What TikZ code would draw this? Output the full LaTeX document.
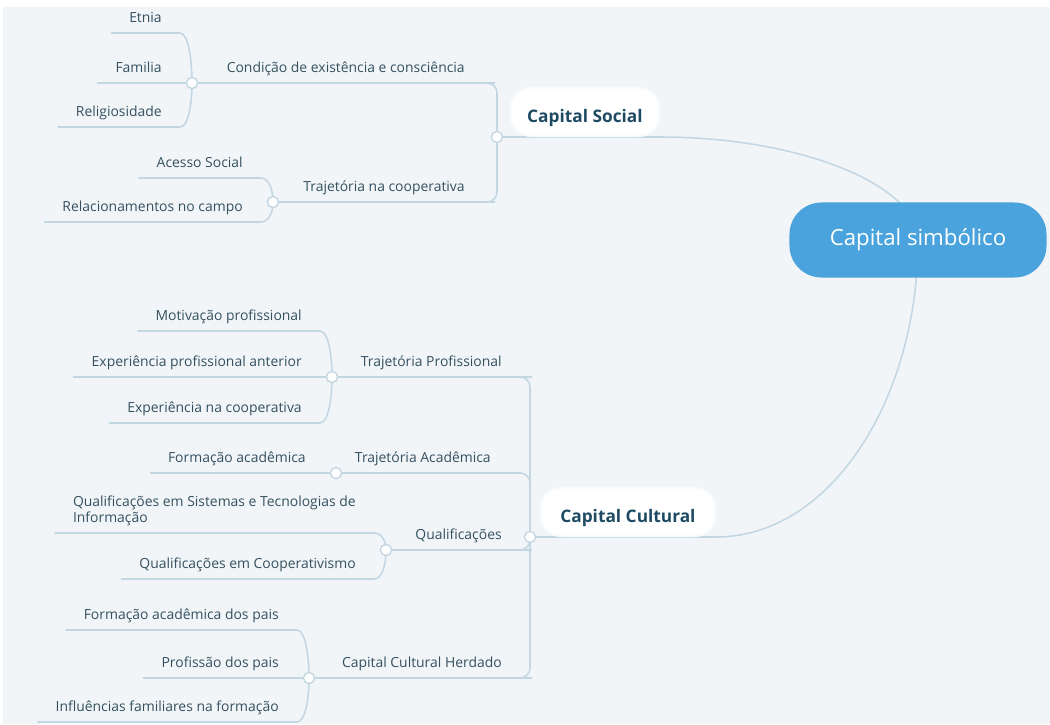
\documentclass[tikz,border=0pt]{standalone}
\usepackage{fontspec}
\setmainfont{Open Sans}
\usetikzlibrary{backgrounds}
\definecolor{panel}{HTML}{F1F5F8}
\definecolor{linkcol}{HTML}{C3D7E3}
\definecolor{txtcol}{HTML}{34505F}
\definecolor{topiccol}{HTML}{1E4B63}
\definecolor{rootcol}{HTML}{4AA3DC}
\tikzset{
leaf/.style = {anchor=south east, inner xsep=0.45cm, inner ysep=4.5pt, text depth=2.5pt, text height=7.5pt, font=\fontsize{9.9}{12}\selectfont, text=txtcol},
branch/.style = {leaf, inner xsep=0.5cm},
junction/.style = {draw=linkcol, line width=1pt, fill=white, circle, inner sep=0pt, minimum size=0.28cm},
link/.style = {draw=linkcol, line width=1.1pt},
trunk/.style = {link, rounded corners=0.25cm},
topic/.style = {anchor=south east, fill=white, draw=white!60!panel, line width=1.5pt, rounded corners=0.5cm, minimum height=1.2cm, text height=17pt, text depth=2pt, font=\fontsize{12.3}{14}\selectfont\bfseries, text=topiccol},
root/.style = {fill=rootcol, rounded corners=0.8cm, text=white, font=\fontsize{15.8}{18}\selectfont, minimum width=6.425cm, minimum height=1.875cm}
}
\begin{document}
\begin{tikzpicture}[x=0.025cm, y=-0.025cm]
    \useasboundingbox (0,0) rectangle (1050,724);
    \node [root] (root) at (918,240) {Capital simbólico};
    \node [topic, minimum width=3.7cm] (social) at (660,137) {Capital Social};
    \node [topic, minimum width=4.35cm] (cultural) at (716,537) {Capital Cultural};

    \node [junction] (js) at (497,137) {};
    \node [junction] (jcond) at (192,83) {};
    \node [junction] (jcoop) at (273,202) {};
    \node [branch] (cond) at (485,83) {Condição de existência e consciência};
    \node [branch] (coop) at (485,202) {Trajetória na cooperativa};
    \node [leaf] (etnia) at (180,33) {Etnia};
    \node [leaf] (familia) at (180,83) {Familia};
    \node [leaf] (relig) at (180,127) {Religiosidade};
    \node [leaf] (acesso) at (261,178) {Acesso Social};
    \node [leaf] (relac) at (261,222) {Relacionamentos no campo};

    \node [junction] (jcc) at (530,537) {};
    \node [junction] (jtp) at (332,377) {};
    \node [junction] (jta) at (336,473) {};
    \node [junction] (jq) at (386,550) {};
    \node [junction] (jh) at (309,678) {};
    \node [branch] (tp) at (522,377) {Trajetória Profissional};
    \node [branch] (ta) at (511,473) {Trajetória Acadêmica};
    \node [branch] (quali) at (522,550) {Qualificações};
    \node [branch] (herd) at (522,678) {Capital Cultural Herdado};
    \node [leaf] (motiv) at (320,331) {Motivação profissional};
    \node [leaf] (expant) at (320,377) {Experiência profissional anterior};
    \node [leaf] (expcoop) at (320,423) {Experiência na cooperativa};
    \node [leaf] (formac) at (324,473) {Formação acadêmica};
    \node [leaf, align=left] (sist) at (374,533) {Qualificações em Sistemas e Tecnologias de\\Informação};
    \node [leaf] (coopq) at (374,579) {Qualificações em Cooperativismo};
    \node [leaf] (formpais) at (297,630) {Formação acadêmica dos pais};
    \node [leaf] (profpais) at (297,678) {Profissão dos pais};
    \node [leaf] (influ) at (297,722) {Influências familiares na formação};

    \begin{scope}[on background layer]
    \fill [panel] (3,7) rectangle (1050,724);
    \draw [link] (js.center) -- (social.south east) .. controls (800,137) and (918,185) .. (root.center);
    \draw [link] (jcc.center) -- (cultural.south east) .. controls (830,537) and (918,400) .. (root.center);

    \draw [trunk] (jcond.center) -- (cond.south east) -| (js.center);
    \draw [trunk] (jcoop.center) -- (coop.south east) -| (js.center);
    \draw [link] (etnia.south west) -- (etnia.south east) .. controls +(8,0) and +(0,-25) .. (jcond.center);
    \draw [link] (familia.south west) -- (jcond.center);
    \draw [link] (relig.south west) -- (relig.south east) .. controls +(8,0) and +(0,22) .. (jcond.center);
    \draw [link] (acesso.south west) -- (acesso.south east) .. controls +(8,0) and +(0,-12) .. (jcoop.center);
    \draw [link] (relac.south west) -- (relac.south east) .. controls +(8,0) and +(0,10) .. (jcoop.center);

    \draw [trunk] (jtp.center) -- (tp.south east) -| (jcc.center);
    \draw [trunk] (jta.center) -- (ta.south east) -| (jcc.center);
    \draw [trunk] (jq.center) -- (quali.south east) -| (jcc.center);
    \draw [trunk] (jh.center) -- (herd.south east) -| (jcc.center);
    \draw [link] (motiv.south west) -- (motiv.south east) .. controls +(8,0) and +(0,-23) .. (jtp.center);
    \draw [link] (expant.south west) -- (jtp.center);
    \draw [link] (expcoop.south west) -- (expcoop.south east) .. controls +(8,0) and +(0,23) .. (jtp.center);
    \draw [link] (formac.south west) -- (jta.center);
    \draw [link] (sist.south west) -- (sist.south east) .. controls +(8,0) and +(0,-9) .. (jq.center);
    \draw [link] (coopq.south west) -- (coopq.south east) .. controls +(8,0) and +(0,15) .. (jq.center);
    \draw [link] (formpais.south west) -- (formpais.south east) .. controls +(8,0) and +(0,-24) .. (jh.center);
    \draw [link] (profpais.south west) -- (jh.center);
    \draw [link] (influ.south west) -- (influ.south east) .. controls +(8,0) and +(0,22) .. (jh.center);
    \end{scope}
\end{tikzpicture}
\end{document}
